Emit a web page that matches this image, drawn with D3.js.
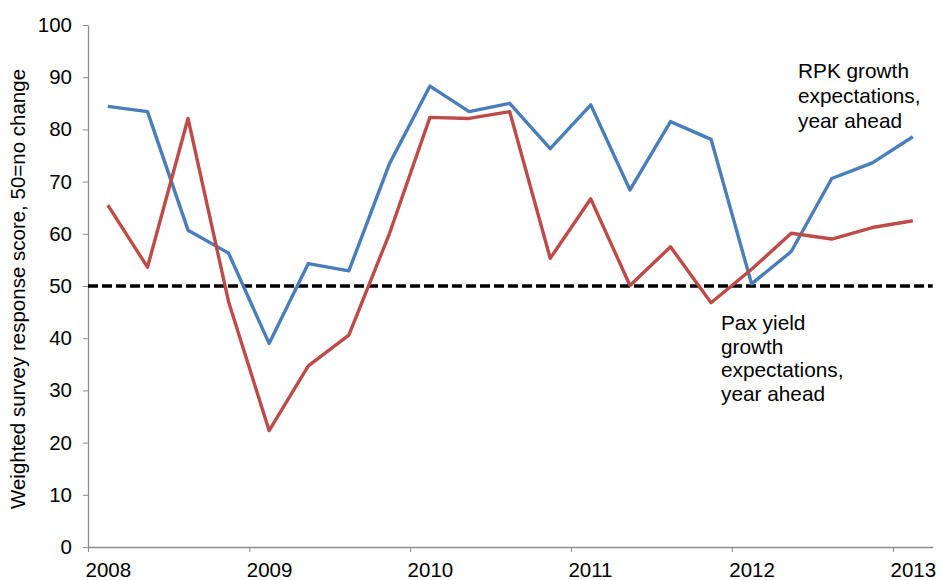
<!DOCTYPE html>
<html>
<head>
<meta charset="utf-8">
<script src="https://cdn.jsdelivr.net/npm/d3@7"></script>
<style>
    body { margin: 0; background: #fff; }
    svg { display: block; font-family: "Liberation Sans", Arial, sans-serif; }
    .axis path, .axis line { stroke: #8c8c8c; }
    .axis text { fill: #000; font-size: 20.5px; }
</style>
</head>
<body>
<svg id="chart" width="940" height="580"></svg>
<script>
// quarterly survey points, Feb 2008 .. Feb 2013
const quarters = [
    "2008-02-15", "2008-05-15", "2008-08-15", "2008-11-15",
    "2009-02-15", "2009-05-15", "2009-08-15", "2009-11-15",
    "2010-02-15", "2010-05-15", "2010-08-15", "2010-11-15",
    "2011-02-15", "2011-05-15", "2011-08-15", "2011-11-15",
    "2012-02-15", "2012-05-15", "2012-08-15", "2012-11-15",
    "2013-02-15"
]
const rpkGrowth = [84.4, 83.4, 60.7, 56.3, 39.0, 54.3, 52.9, 73.4, 88.3, 83.4, 85.0, 76.3,
    84.7, 68.4, 81.5, 78.1, 50.4, 56.6, 70.6, 73.6, 78.6]
const paxYield = [65.5, 53.6, 82.1, 47.0, 22.3, 34.7, 40.6, 60.0, 82.3, 82.1, 83.4, 55.3,
    66.7, 50.1, 57.5, 46.8, 53.2, 60.1, 59.0, 61.2, 62.5]
const noChange = [50, 50]
const noChangeDates = ["2008-01-01", "2013-04-01"]
const yearTicks = ["2008", "2009", "2010", "2011", "2012", "2013"]
const yTicks = [0, 10, 20, 30, 40, 50, 60, 70, 80, 90, 100]
const rpkLabel = ["RPK growth", "expectations,", "year ahead"]
const paxLabel = ["Pax yield", "growth", "expectations,", "year ahead"]

const parse = d3.timeParse("%Y-%m-%d")
const svg = d3.select("#chart")

const x = d3.scaleTime()
    .domain([parse("2008-01-01"), parse("2013-04-01")])
    .range([88, 932.7])
const y = d3.scaleLinear()
    .domain([0, 100])
    .range([547, 25])

// axes
let xAxis = svg.append("g")
    .attr("class", "axis")
    .attr("transform", "translate(0," + y(0) + ")")
    .call(d3.axisBottom(x)
        .tickValues(yearTicks.map(d => parse(d + "-01-01")))
        .tickFormat(d3.timeFormat("%Y"))
        .tickSize(5)
        .tickSizeOuter(0))
xAxis.selectAll("text")
    .attr("text-anchor", "start")
    .attr("dx", "-3")
    .attr("dy", "0")
    .attr("y", 30)
xAxis.select(".domain").attr("stroke-width", 1.3)

let yAxis = svg.append("g")
    .attr("class", "axis")
    .attr("transform", "translate(" + x.range()[0] + ",0)")
    .call(d3.axisLeft(y)
        .tickValues(yTicks)
        .tickSize(5)
        .tickSizeOuter(0)
        .tickPadding(11))
yAxis.select(".domain").attr("stroke-width", 1.3)

svg.append("text")
    .attr("transform", "translate(25," + (y(50) + 3) + ") rotate(-90)")
    .attr("text-anchor", "middle")
    .attr("font-size", "20.5px")
    .text("Weighted survey response score, 50=no change")

// reference line at 50
let refData = noChangeDates.map((d, i) => ({date: parse(d), value: noChange[i]}))
svg.append("path")
    .datum(refData)
    .attr("fill", "none")
    .attr("stroke", "#000")
    .attr("stroke-width", 3.5)
    .attr("stroke-dasharray", "10,4")
    .attr("d", d3.line().x(d => x(d.date)).y(d => y(d.value)))

let line = d3.line()
    .x(d => x(d.date))
    .y(d => y(d.value))

let series = [
    {name: "rpk", color: "#4a7ebb", values: rpkGrowth},
    {name: "pax", color: "#be4b48", values: paxYield}
]

svg.selectAll("path.series")
    .data(series)
    .join("path")
    .attr("class", "series")
    .attr("fill", "none")
    .attr("stroke", d => d.color)
    .attr("stroke-width", 3.4)
    .attr("stroke-linejoin", "round")
    .attr("d", d => line(d.values.map((v, i) => ({date: parse(quarters[i]), value: v}))))

// annotations
svg.append("text")
    .attr("font-size", "20.8px")
    .selectAll("tspan")
    .data(rpkLabel)
    .join("tspan")
    .attr("x", 798)
    .attr("y", (d, i) => 78 + i * 25)
    .text(d => d)

svg.append("text")
    .attr("font-size", "20.8px")
    .selectAll("tspan")
    .data(paxLabel)
    .join("tspan")
    .attr("x", 721)
    .attr("y", (d, i) => 330 + i * 23.7)
    .text(d => d)
</script>
</body>
</html>
